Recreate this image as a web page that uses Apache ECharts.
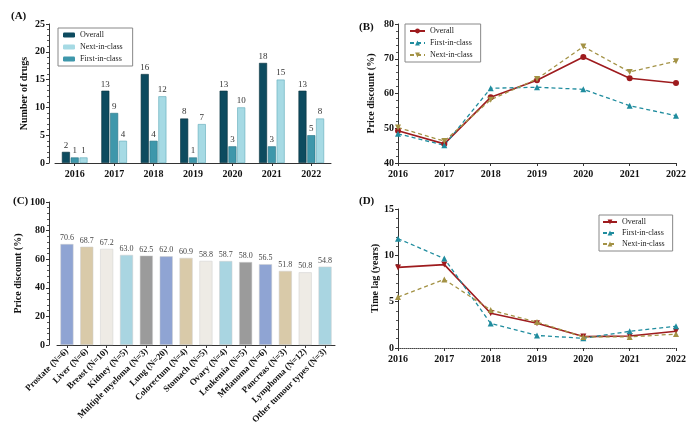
<!DOCTYPE html>
<html><head><meta charset="utf-8">
<script src="https://cdn.jsdelivr.net/npm/echarts@6/dist/echarts.min.js"></script>
<style>html,body{margin:0;padding:0;background:#fff}#c{width:700px;height:439px}</style>
</head><body><div id="c"></div>
<script>
var years = ['2016','2017','2018','2019','2020','2021','2022'];
// Panel A: number of drugs
var countOverall = [2,13,16,8,13,18,13];
var countFirst = [1,9,4,1,3,3,5];
var countNext = [1,4,12,7,10,15,8];
// Panel B: price discount (%)
var discOverall = [49.3,45.5,58.9,63.8,70.5,64.4,63.0];
var discFirst = [48.4,45.1,61.5,61.8,61.2,56.5,53.6];
var discNext = [50.2,46.3,58.2,64.2,73.5,66.2,69.3];
// Panel C: price discount by tumour type
var tumourTypes = ['Prostate (N=6)','Liver (N=6)','Breast (N=10)','Kidney (N=5)','Multiple myeloma (N=3)','Lung (N=20)','Colorectum (N=4)','Stomach (N=5)','Ovary (N=4)','Leukemia (N=5)','Melanoma (N=6)','Pancreas (N=3)','Lymphoma (N=12)','Other tumour types (N=3)'];
var tumourDiscount = [70.6,68.7,67.2,63.0,62.5,62.0,60.9,58.8,58.7,58.0,56.5,51.8,50.8,54.8];
// Panel D: time lag (years)
var lagOverall = [8.7,9.0,3.75,2.67,1.23,1.3,1.8];
var lagFirst = [11.8,9.65,2.65,1.35,1.05,1.8,2.35];
var lagNext = [5.5,7.4,4.1,2.8,1.2,1.2,1.5];

var FONT = 'Liberation Serif';
var cOverallBar = '#0d4b5f', cFirstBar = '#3e97ab', cNextBar = '#a6dae4';
var cRed = '#9e1b1e', cTeal = '#1f8c9e', cOlive = '#a39245';
var tumourPalette = ['#8fa4d3','#d9caa9','#eeebe5','#a9d5e1','#9b9b9b'];

var chart = echarts.init(document.getElementById('c'), null, {renderer:'canvas'});

function yAx(gi, min, max, interval, name, offset, nameGap){
  return {gridIndex:gi, type:'value', min:min, max:max, interval:interval, offset:offset||0,
    name:name, nameLocation:'middle', nameGap:nameGap,
    nameTextStyle:{fontFamily:FONT, fontWeight:'bold', fontSize:10, color:'#111'},
    axisLine:{show:true, lineStyle:{color:'#333', width:1}},
    axisTick:{show:true, length:3, lineStyle:{color:'#333'}},
    minorTick:{show:true, splitNumber:5, length:2, lineStyle:{color:'#555'}},
    splitLine:{show:false},
    axisLabel:{fontFamily:FONT, fontWeight:'bold', fontSize:10, color:'#111', margin:4}};
}
function xCat(gi, data, bg, extra){
  var o = {gridIndex:gi, type:'category', data:data, boundaryGap:bg,
    axisLine:{show:true, lineStyle:{color:'#333', width:1}},
    axisTick:{show:true, length:3, alignWithLabel:true, lineStyle:{color:'#333'}},
    axisLabel:{fontFamily:FONT, fontWeight:'bold', fontSize:10, color:'#111', margin:6}};
  if (extra) for (var k in extra) o[k] = extra[k];
  return o;
}
var legendText = {fontFamily:FONT, fontSize:8, color:'#222'};
function strip(n){ return n.replace(/^[A-D]:/, ''); }

var option = {
  animation:false,
  title:[
    {text:'(A)', left:6, top:6, textStyle:{fontFamily:FONT, fontWeight:'bold', fontSize:11, color:'#111'}},
    {text:'(B)', left:354, top:17, textStyle:{fontFamily:FONT, fontWeight:'bold', fontSize:11, color:'#111'}},
    {text:'(C)', left:8, top:191, textStyle:{fontFamily:FONT, fontWeight:'bold', fontSize:11, color:'#111'}},
    {text:'(D)', left:354, top:191, textStyle:{fontFamily:FONT, fontWeight:'bold', fontSize:11, color:'#111'}}
  ],
  grid:[
    {left:55, top:24, width:276, height:139},
    {left:398, top:24, width:278, height:139},
    {left:57, top:202, width:278, height:143},
    {left:398, top:209, width:278, height:139}
  ],
  legend:[
    {data:['A:Overall','A:Next-in-class','A:First-in-class'], formatter:strip, orient:'vertical', left:58, top:28,
      itemWidth:12, itemHeight:5, itemGap:4, textStyle:legendText, borderColor:'#888', borderWidth:1, borderRadius:0, padding:[3,10,3,5],
      itemStyle:{borderWidth:0}},
    {data:['B:Overall','B:First-in-class','B:Next-in-class'], formatter:strip, orient:'vertical', left:405, top:24,
      itemWidth:15, itemHeight:6, itemGap:4, textStyle:legendText, borderColor:'#888', borderWidth:1, borderRadius:0, padding:[3,8,3,4]},
    {data:['D:Overall','D:First-in-class','D:Next-in-class'], formatter:strip, orient:'vertical', left:599, top:215,
      itemWidth:14, itemHeight:6, itemGap:3, textStyle:legendText, borderColor:'#888', borderWidth:1, borderRadius:0, padding:[3,8,3,3]}
  ],
  xAxis:[
    xCat(0, years, true),
    xCat(1, years, false),
    xCat(2, tumourTypes, true, {axisLabel:{fontFamily:FONT, fontWeight:'bold', fontSize:9, color:'#111', rotate:45, margin:5, interval:0}}),
    xCat(3, years, false, {axisLine:{show:true, lineStyle:{color:'#444', width:1, type:'dotted'}}})
  ],
  yAxis:[
    yAx(0, 0, 25, 5, 'Number of drugs', 6, 20),
    yAx(1, 40, 80, 10, 'Price discount (%)', 0, 22),
    yAx(2, 0, 100, 20, 'Price discount (%)', 8, 26),
    yAx(3, 0, 15, 5, 'Time lag (years)', 0, 18)
  ],
  series:[
    {name:'A:Overall', type:'bar', xAxisIndex:0, yAxisIndex:0, data:countOverall, barWidth:8, barGap:'10%',
      itemStyle:{color:cOverallBar, borderColor:'#08303d', borderWidth:0.6},
      label:{show:true, position:'top', distance:2, fontFamily:FONT, fontSize:9, color:'#333'}},
    {name:'A:First-in-class', type:'bar', xAxisIndex:0, yAxisIndex:0, data:countFirst, barWidth:8, barGap:'10%',
      itemStyle:{color:cFirstBar, borderColor:'#2a7385', borderWidth:0.6},
      label:{show:true, position:'top', distance:2, fontFamily:FONT, fontSize:9, color:'#333'}},
    {name:'A:Next-in-class', type:'bar', xAxisIndex:0, yAxisIndex:0, data:countNext, barWidth:8, barGap:'10%',
      itemStyle:{color:cNextBar, borderColor:'#5ea9b8', borderWidth:0.6},
      label:{show:true, position:'top', distance:2, fontFamily:FONT, fontSize:9, color:'#333'}},

    {name:'B:Overall', type:'line', xAxisIndex:1, yAxisIndex:1, data:discOverall, symbol:'circle', symbolSize:6,
      lineStyle:{color:cRed, width:1.6}, itemStyle:{color:cRed}},
    {name:'B:First-in-class', type:'line', xAxisIndex:1, yAxisIndex:1, data:discFirst, symbol:'triangle', symbolSize:6,
      lineStyle:{color:cTeal, width:1.3, type:[4,3]}, itemStyle:{color:cTeal}},
    {name:'B:Next-in-class', type:'line', xAxisIndex:1, yAxisIndex:1, data:discNext, symbol:'triangle', symbolRotate:180, symbolSize:6,
      lineStyle:{color:cOlive, width:1.3, type:[4,3]}, itemStyle:{color:cOlive}},

    {name:'C:Discount', type:'bar', xAxisIndex:2, yAxisIndex:2, barWidth:13,
      data:tumourDiscount.map(function(v,i){return {value:v, itemStyle:{color:tumourPalette[i%5], borderColor:'#cfcfcf', borderWidth:0.5}};}),
      label:{show:true, position:'top', distance:2, fontFamily:FONT, fontSize:8, color:'#444', formatter:function(p){return p.value.toFixed(1);}}},

    {name:'D:Overall', type:'line', xAxisIndex:3, yAxisIndex:3, data:lagOverall, symbol:'triangle', symbolRotate:180, symbolSize:6,
      lineStyle:{color:cRed, width:1.6}, itemStyle:{color:cRed}},
    {name:'D:First-in-class', type:'line', xAxisIndex:3, yAxisIndex:3, data:lagFirst, symbol:'triangle', symbolSize:6,
      lineStyle:{color:cTeal, width:1.3, type:[4,3]}, itemStyle:{color:cTeal}},
    {name:'D:Next-in-class', type:'line', xAxisIndex:3, yAxisIndex:3, data:lagNext, symbol:'triangle', symbolSize:6,
      lineStyle:{color:cOlive, width:1.3, type:[4,3]}, itemStyle:{color:cOlive}}
  ]
};
chart.setOption(option);
</script>
</body></html>
